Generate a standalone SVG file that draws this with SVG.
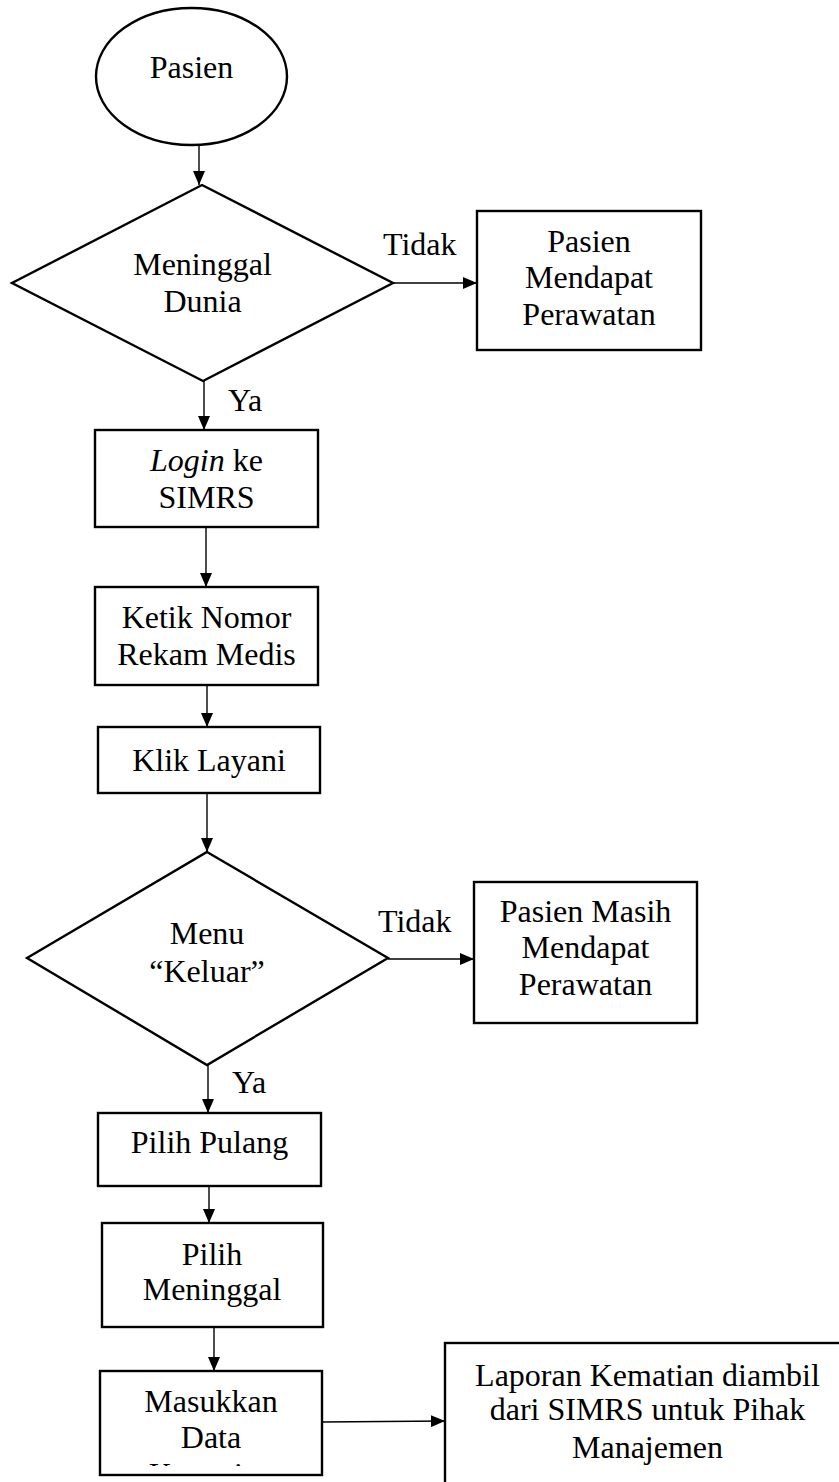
<svg xmlns="http://www.w3.org/2000/svg" width="839" height="1482" viewBox="0 0 839 1482">
  <style>
    .shape { fill: #ffffff; stroke: #000000; stroke-width: 2.4; }
    .link { fill: none; stroke: #000000; stroke-width: 1.4; }
    text { font-family: "Liberation Serif", "Times New Roman", serif; font-size: 32px; fill: #000000; }
    .c { text-anchor: middle; }
  </style>
  <defs>
    <marker id="arrow" viewBox="0 0 14 12" refX="14" refY="6" markerWidth="14" markerHeight="12" markerUnits="userSpaceOnUse" orient="auto">
      <path d="M0,0 L14,6 L0,12 Z" fill="#000000"/>
    </marker>
    <!-- the last line of the data-entry box runs past its bottom edge -->
    <clipPath id="clip-masukkan">
      <rect x="100" y="1371" width="222" height="95"/>
    </clipPath>
  </defs>
  <rect width="839" height="1482" fill="#ffffff"/>

  <g id="connectors">
    <line class="link" x1="199" y1="145" x2="199" y2="185" marker-end="url(#arrow)"/>
    <line class="link" x1="393" y1="283" x2="477" y2="283" marker-end="url(#arrow)"/>
    <line class="link" x1="204" y1="381" x2="204" y2="430" marker-end="url(#arrow)"/>
    <line class="link" x1="206" y1="527" x2="206" y2="587" marker-end="url(#arrow)"/>
    <line class="link" x1="207" y1="685" x2="207" y2="727" marker-end="url(#arrow)"/>
    <line class="link" x1="207" y1="793" x2="207" y2="852" marker-end="url(#arrow)"/>
    <line class="link" x1="388" y1="959" x2="474" y2="959" marker-end="url(#arrow)"/>
    <line class="link" x1="208" y1="1065" x2="208" y2="1113" marker-end="url(#arrow)"/>
    <line class="link" x1="209" y1="1186" x2="209" y2="1223" marker-end="url(#arrow)"/>
    <line class="link" x1="214" y1="1327" x2="214" y2="1371" marker-end="url(#arrow)"/>
    <line class="link" x1="322" y1="1422" x2="445" y2="1421" marker-end="url(#arrow)"/>
    <text x="383" y="255">Tidak</text>
    <text x="228" y="411">Ya</text>
    <text x="378" y="932">Tidak</text>
    <text x="232" y="1093">Ya</text>
  </g>

  <g id="start-pasien">
    <ellipse class="shape" cx="191.5" cy="76.5" rx="95.5" ry="68.5"/>
    <text class="c" x="191.5" y="78">Pasien</text>
  </g>

  <g id="decision-meninggal">
    <polygon class="shape" points="202,185 393,283 203,381 12,283"/>
    <text class="c" x="202.5" y="275">Meninggal</text>
    <text class="c" x="202.5" y="312">Dunia</text>
  </g>

  <g id="pasien-perawatan">
    <rect class="shape" x="477" y="211" width="224" height="139"/>
    <text class="c" x="589" y="252">Pasien</text>
    <text class="c" x="589" y="288">Mendapat</text>
    <text class="c" x="589" y="325">Perawatan</text>
  </g>

  <g id="login-simrs">
    <rect class="shape" x="95" y="430" width="223" height="97"/>
    <text class="c" x="206.5" y="471"><tspan font-style="italic">Login</tspan> ke</text>
    <text class="c" x="206.5" y="508">SIMRS</text>
  </g>

  <g id="ketik-nomor">
    <rect class="shape" x="95" y="587" width="223" height="98"/>
    <text class="c" x="206.5" y="628">Ketik Nomor</text>
    <text class="c" x="206.5" y="665">Rekam Medis</text>
  </g>

  <g id="klik-layani">
    <rect class="shape" x="98" y="727" width="222" height="66"/>
    <text class="c" x="209" y="771">Klik Layani</text>
  </g>

  <g id="decision-keluar">
    <polygon class="shape" points="207,852 388,958 207,1065 27,958"/>
    <text class="c" x="207" y="944">Menu</text>
    <text class="c" x="207" y="982">“Keluar”</text>
  </g>

  <g id="pasien-masih-perawatan">
    <rect class="shape" x="474" y="882" width="223" height="141"/>
    <text class="c" x="585.5" y="922">Pasien Masih</text>
    <text class="c" x="585.5" y="958">Mendapat</text>
    <text class="c" x="585.5" y="995">Perawatan</text>
  </g>

  <g id="pilih-pulang">
    <rect class="shape" x="98" y="1113" width="223" height="73"/>
    <text class="c" x="209.5" y="1153">Pilih Pulang</text>
  </g>

  <g id="pilih-meninggal">
    <rect class="shape" x="102" y="1223" width="221" height="104"/>
    <text class="c" x="212" y="1265">Pilih</text>
    <text class="c" x="212" y="1300">Meninggal</text>
  </g>

  <g id="masukkan-data">
    <rect class="shape" x="100" y="1371" width="222" height="104"/>
    <text class="c" x="211" y="1412">Masukkan</text>
    <text class="c" x="211" y="1448">Data</text>
    <text class="c" x="211" y="1485" clip-path="url(#clip-masukkan)">Kematian</text>
  </g>

  <g id="laporan-kematian">
    <rect class="shape" x="445" y="1343" width="420" height="180"/>
    <text class="c" x="647.5" y="1386">Laporan Kematian diambil</text>
    <text class="c" x="647.5" y="1420">dari SIMRS untuk Pihak</text>
    <text class="c" x="647.5" y="1458">Manajemen</text>
  </g>
</svg>
